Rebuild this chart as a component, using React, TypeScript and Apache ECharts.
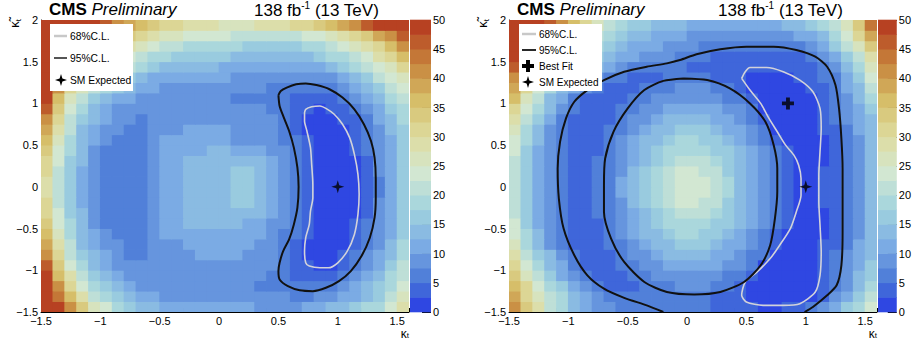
import React, { useEffect, useRef } from "react";
import * as echarts from "echarts";

const FONT = '"Liberation Sans", Arial, Helvetica, sans-serif';

// cell centres of the likelihood scans
const KT_CELLS = [-1.45, -1.35, -1.25, -1.15, -1.05, -0.95, -0.85, -0.75, -0.65, -0.55, -0.45, -0.35, -0.25, -0.15, -0.05, 0.05, 0.15, 0.25, 0.35, 0.45, 0.55, 0.65, 0.75, 0.85, 0.95, 1.05, 1.15, 1.25, 1.35, 1.45, 1.55];
const KTT_CELLS = [-1.4375, -1.3125, -1.1875, -1.0625, -0.9375, -0.8125, -0.6875, -0.5625, -0.4375, -0.3125, -0.1875, -0.0625, 0.0625, 0.1875, 0.3125, 0.4375, 0.5625, 0.6875, 0.8125, 0.9375, 1.0625, 1.1875, 1.3125, 1.4375, 1.5625, 1.6875, 1.8125, 1.9375];
const CELL_W = 0.1;
const CELL_H = 0.125;

// -2 dNLL values, rows from kappa~t = -1.44 (bottom) to 1.94 (top)
const LEFT_SCAN = [
  [58,48,41,34,27,22.5,18.5,16,14,12.5,11.5,11,10.8,10.7,10.7,10.6,10.4,10,9.6,9.3,9.4,9.8,10.5,11.5,12.8,14.3,15.8,17.5,19.8,23,28],
  [56,44,35,28,22,18,15,12.5,11,10.2,9.8,9.6,9.5,9.5,9.5,9.4,9.2,8.8,8.2,7.8,7.5,7.3,7.2,7.6,8.6,10.2,12.2,14.5,17.2,20.5,25],
  [53,40,31,24,19,15,12.5,10.8,9.8,9.3,9.1,9,9,9,9,9,8.8,8.3,7.3,6.8,6.1,5.5,5.1,5.3,6.3,8,10.5,13,16,19.5,24],
  [50,37,27.5,21,16,12.5,10.5,9.4,8.8,8.5,8.6,8.8,9,9,9,9,8.8,8.5,7.5,6.8,5.4,4.2,3.5,3.6,4.6,6.3,8.8,11.5,14.5,18,22],
  [46,34,24,18,14,11,9.3,8.3,7.8,8,8.5,9,9.3,9.5,9.5,9.5,9.3,9,8.5,7.5,5.6,4,2.7,2.2,2.4,4,6.2,8.8,12,15.5,20],
  [42,31,22,16,12.5,10,8.5,7.4,7,7.5,8.6,9.4,9.8,10,10.1,10.1,10,9.7,9.2,8,6.3,4.2,2,1.4,1.8,3,5,7.5,10.5,14,18.5],
  [38,28,20,14.5,11,9,7.6,7,6.6,7.5,9,9.9,10.3,10.4,10.4,10.4,10.3,10.2,9.8,8.8,6.8,4.8,2.2,1.2,1.2,2,3.8,6.2,9.2,12.8,17.5],
  [35,26,19,13.5,10,8,7,6.5,6.5,8,10.2,10.8,11,11.2,11.2,11.2,11,10.8,10.3,9,7,5.3,2.6,1,0.8,1.5,3.2,5.5,8.5,12,16.5],
  [33,24,18,13,9.5,7.4,6.6,6.3,6.4,8.2,10.6,11.8,12.6,12.8,13,13,12.8,12.4,11.5,9.8,7.6,5.6,3,0.9,0.5,1.1,2.8,5,8,11.5,16],
  [31,23,17,12.5,9,7,6.4,6.2,6.4,8.5,10.8,12,12.6,13,13.3,13.6,14,14.2,13.2,10.5,8,6.1,3.5,0.9,0.3,0.9,2.4,4.8,7.8,11.5,16],
  [30,22,16.5,12,8.8,6.9,6.3,6.1,6.3,8.5,11,12.2,12.8,13.3,13.8,14.3,15.2,15.3,14,10.8,8.2,6.2,3.3,0.8,0.2,0.8,2.1,4.5,7.5,11.3,16],
  [29,21,16,11.5,8.6,6.8,6.3,6.1,6.3,8.4,11,12.3,13,13.6,14,14.6,15.6,15.8,14.3,11,8.2,6.3,3.3,0.8,0.1,0.7,1.9,4.3,7.3,11.2,16],
  [29,21,16,11.5,8.6,6.8,6.3,6.1,6.3,8.4,11,12.3,13,13.6,14,14.6,15.6,15.8,14.3,11,8.2,6.3,3.3,0.8,0.1,0.7,1.9,4.3,7.3,11.2,16],
  [30,22,16.5,12,8.8,6.9,6.3,6.1,6.3,8.5,11,12.2,12.8,13.3,13.8,14.3,15.2,15.3,14,10.8,8.2,6.2,3.3,0.8,0.2,0.8,2.1,4.5,7.5,11.3,16],
  [31,23,17,12.5,9,7,6.4,6.2,6.4,8.5,10.8,12,12.6,13,13.3,13.6,14,14.2,13.2,10.5,8,6,3.2,0.8,0.3,0.9,2.3,4.7,7.8,11.5,16],
  [33,24,18,13,9.5,7.4,6.6,6.3,6.4,8.2,10.6,11.5,12,12.3,12.5,12.6,12.3,11.5,10.8,9.5,7.6,5.7,3,0.9,0.5,1.1,2.6,5,8,11.5,16],
  [35,26,19,13.5,10,8,7,6.5,6.5,8,10.2,10.8,11,11.2,11,10.5,9.9,9.8,9.5,8.6,7,5.3,2.6,1,0.8,1.4,3,5.3,8.5,12,16.5],
  [38,28,20,14.5,11,9,7.6,7,6.6,7.5,9,9.8,10,10.1,10.1,10,9.8,9.5,9,8,6.6,4.8,2.2,1.2,1.2,2,3.6,6,9,12.5,17],
  [42,31,22,16,12.5,10,8.5,7.5,7,7.5,8.3,8.8,9,9.2,9.3,9.3,9,8.7,8.3,7.5,6.2,4.5,2,1.5,1.8,3,4.8,7,10,13.5,18],
  [46,34,24,18,14,11,9.5,8.5,8,8,8.5,8.5,8.5,8.5,8.5,8.5,8,8,7.5,7,5.8,4,2.8,2.2,2.6,4,6,8.5,11.5,15,19],
  [49,37,27,21,16.5,13.5,11.5,10,9.5,8.5,8.5,8.5,8.5,8.5,8,7.5,7,7,7,6.5,5.5,4.5,3.8,3.8,4.5,6.2,9,11.5,14.5,18,21.5],
  [51,40,31,25,21,17.5,15,13,11.5,10,9.5,9.5,9,9,9,8.5,8.5,8,7.5,7,6.2,5.6,5.3,5.5,6.3,8.5,11,14,17,20,23.5],
  [53,43,35,29,25,21.5,19,16.5,14,12,11,10.5,10.5,10.5,10.5,10,9.5,9,8.5,8,7.5,7.5,7.5,8,9.5,11.5,14,17,20,23,26],
  [54,46,39,34,30,26,23,20,17.5,15,13.5,13,12.5,12.5,12.5,12,12,11.5,11,10.5,10,10,10.5,12,14,16,18,20.5,23.5,26.5,30],
  [55,49,43,38,34,30,27,24,21,19,17.5,16.5,16,15.5,15,15,14.5,14,13.5,13,13,13.5,14.5,16,17.5,19.5,22,24.5,28,31.5,35],
  [56,52,47,43,39,35,31.5,28.5,26,23.5,22,20.5,19.5,19,18.5,18,17.5,17,16.5,16.5,16.5,17,18,19.5,21,23,25.5,28.5,32,36,40],
  [58,55,51,47,43,39.5,36,33,30,28,26.5,25.5,24.5,23.5,23,22.5,22,21.5,21.5,21.5,21.5,22,23,24.5,26,28,30.5,34,38,42,46],
  [60,58,55,52,49,46,42,39,36,33.5,31.5,30,29,28,27.5,27,27,27,27.5,28,29,30.5,32,34,36,38.5,41.5,45,49,53,57],
];

const RIGHT_SCAN = [
  [40,34,28,22,17.5,14,11.5,9.5,8.2,7.3,6.6,6.1,5.8,5.6,5.4,5.2,5,4.6,4,3.4,2.8,2.4,2.4,2.6,4,6,8.5,11.5,15,19,23.5],
  [38,32,26.5,22,18,14.5,11.5,9,7.2,6,5.3,5,5.2,5.5,5.7,5.6,5,4.3,3.5,2.6,1.2,0.9,0.9,1.1,1.6,2.3,4.8,8,11.5,15.5,20.5],
  [36,30,24,19,15,11.5,8.6,6.3,4.9,4.4,4.6,5.3,6.2,7.1,7.6,7.7,7.5,6.8,6.3,3.5,1.2,0.6,0.5,0.6,1,1.9,3.6,5.8,9,13,18],
  [33,27,21,16,12,8.5,6.2,4.8,4.2,4.4,5.3,6.6,8,8.9,9.5,9.6,9.3,8.6,7.4,6.8,4,1.2,0.5,0.5,0.7,1.4,3.4,5.6,9,12.5,16.5],
  [30,24.5,19,14.5,10.5,7.2,4.8,4.1,4.3,5.2,6.4,8.2,9.7,10.8,11.5,11.6,11.3,10.4,9.1,7.5,6.6,2.2,0.7,0.4,0.5,1.1,3,5.6,8.5,11.8,15.5],
  [28,22,17,12.5,8.8,6,4.3,4.1,4.7,6.2,7.8,9.8,11.4,12.6,13.4,13.6,13.2,12.2,10.8,9,7.1,6.3,2,0.8,0.5,0.9,2.8,5.3,8,11,14.5],
  [26,19.5,14,9.8,6.8,4.5,3.9,4.3,5,7,9.1,11.2,13.2,14.5,15.5,15.7,15.2,14,12.4,10.3,8.3,6.4,2.6,1,0.4,0.5,2.5,4.8,7.3,10.2,13.8],
  [24,18,12.5,8.5,5.3,3.9,3.9,4.6,5.9,8,10.2,12.6,14.7,16.3,17.5,17.8,17.2,15.7,13.8,11.6,9.4,6.9,3.8,1.8,0.7,0.5,2.3,4.6,7,9.8,13.3],
  [23,17,12,8.2,5.1,3.8,4,4.9,6.2,8.8,11.2,13.8,16.1,18,19.5,19.9,19.1,17.4,15.2,12.7,10.3,7.7,5.8,2.5,1.1,0.6,2.3,4.5,6.9,9.8,13.3],
  [22,16.2,11.5,8,5,3.8,4,5,6.8,9.5,12,14.8,17.4,19.7,21.3,21.7,21,18.8,16.3,13.6,11,8.3,5.9,3.2,1.6,0.7,2.3,4.5,6.9,9.8,13.3],
  [21.5,15.8,11.2,7.8,5,3.8,4,5.1,7.2,9.9,12.6,15.5,18.4,21,22.7,22.9,22.2,20,17.1,14.2,11.6,8.8,6,3.6,2.1,0.9,2.5,4.6,7,9.8,13.3],
  [21,15.5,11,7.8,5,3.9,4.1,5.1,7.4,10.2,13,15.9,19,21.6,23.1,23.4,22.8,20.7,17.6,14.6,11.9,9,6.2,4,2.3,1,2.5,4.6,7,9.8,13.3],
  [21,15.5,11,7.8,5,3.9,4.1,5.1,7.4,10.2,13,15.9,19,21.6,23.1,23.4,22.8,20.7,17.6,14.6,11.9,9,6.2,4,2.4,1.2,2.6,4.6,7,9.8,13.3],
  [21.5,15.8,11.2,7.8,5,3.8,4,5.1,7.2,9.9,12.6,15.5,18.4,21,22.7,22.9,22.2,20,17.1,14.2,11.6,8.8,6,3.8,2.3,1,2.6,4.6,7,9.8,13.3],
  [22,16.2,11.5,8,5,3.8,4,5,6.8,9.5,12,14.8,17.4,19.7,21.3,21.7,21,18.8,16.3,13.6,11,8.3,5.9,3.3,1.8,0.8,2.4,4.5,6.9,9.8,13.3],
  [23,17,12,8.2,5.1,3.8,4,4.9,6.2,8.8,11.2,13.8,16.1,18,19.5,19.9,19.1,17.4,15.2,12.7,10.3,7.7,5.8,2.6,1.2,0.6,2.4,4.5,6.9,9.8,13.3],
  [24,18,12.5,8.5,5.3,3.9,3.9,4.6,5.8,8,10.2,12.6,14.7,16.3,17.5,17.8,17.2,15.7,13.8,11.6,9.4,6.9,3.5,1.6,0.6,0.5,2.4,4.6,7,9.8,13.4],
  [26,19.5,14,9.5,6,4,3.9,4.3,5,7,9.1,11.2,13.2,14.5,15.5,15.7,15.2,14,12.4,10.3,8.3,6.5,2.2,0.8,0.3,0.5,2.5,4.8,7.3,10,13.6],
  [28,21,15.5,10.5,6.8,4.3,3.9,4,4.6,5.9,7.8,9.8,11.4,12.6,13.4,13.6,13.2,12.2,10.8,9,7.1,4.5,1.3,0.3,0.2,0.8,2.8,5.2,7.8,10.6,14],
  [31,24,17.5,12.5,8.5,5.4,4.3,4,4.3,5.2,6.4,8.2,9.7,10.8,11.5,11.6,11.3,10.4,9.1,7.5,6.3,2.3,0.6,0.1,0.3,1,3,5.6,8.3,11.2,15],
  [35,27,20,14.5,10,6.8,4.8,4.2,4.1,4.4,5.3,6.6,8,8.9,9.5,9.6,9.3,8.6,7.4,6.4,3.5,1.2,0.4,0.1,0.4,1.5,3.8,5.7,9,12.5,17.5],
  [38,31,24,18.5,14,10.5,7.5,5.2,4.3,4.3,4.8,6,6.2,7.1,7.6,7.7,7.5,6.8,5.9,3.5,1.8,0.6,0.3,0.3,0.8,2.7,4.8,6.3,10.3,14.5,20],
  [41,33,27,22,17.5,14,11,8,6,5.2,4.6,4.4,4.7,5.2,5.8,5.8,5.3,4.6,3.6,2.5,1.5,0.8,0.8,1.4,2.6,4,5.4,7.2,11,16,22.5],
  [46,39,33,28,23.5,19.5,16,13,10.5,8.5,7,6,5.5,5.2,5,4.7,4.3,3.8,3.3,2.8,2.5,2.5,2.6,3,3.6,4.5,5.6,8.5,13,19,25.5],
  [49,43,37,32,27,23,19.5,16.5,14.2,12.3,10.8,9.5,8.5,7.5,6.6,5.8,5.2,4.6,4.1,3.7,3.5,3.5,3.6,4,4.6,5.6,8,11.5,16,22,29],
  [52,45,39,34,29,25,21.5,18.5,16,14,12.3,11,10,9.2,8.5,7.8,7.2,6.7,6.3,6.1,6,6,6.1,6.5,7.2,8.5,11,15,20,26,33],
  [56,49,43,38,33,28.5,24.5,21,18.5,16.3,14.5,13,12,11.2,10.5,9.8,9.3,8.9,8.6,8.5,8.5,8.6,8.9,9.5,10.5,12,14.5,18.5,23.5,30,38],
  [60,55,50,45,40,35,30,25.5,22,19,17,15.5,14.5,13.5,12.8,12.2,11.7,11.3,11,11,11.2,11.6,12.2,13,14.3,16,18.5,21,25.5,33,43],
];

// colour-scale boundaries (20 levels)
const LEVELS = [0, 2.5, 5, 7.5, 10, 12.5, 15, 17.5, 20, 22.5, 25, 27.5, 30, 32.5, 35, 37.5, 40, 42.5, 45, 47.5, 50];

// contour lines [kappa_t, kappa~_t]
const LEFT_CL68 = [[0.72,0.89],[0.73,0.93],[0.78,0.96],[0.85,0.97],[0.9,0.94],[0.97,0.87],[1.04,0.75],[1.1,0.59],[1.14,0.39],[1.17,0.15],[1.18,-0.09],[1.17,-0.33],[1.14,-0.57],[1.08,-0.77],[1.0,-0.91],[0.92,-0.97],[0.85,-0.97],[0.76,-0.95],[0.73,-0.91],[0.72,-0.77],[0.73,-0.61],[0.76,-0.45],[0.77,-0.29],[0.79,-0.13],[0.79,0.03],[0.78,0.27],[0.77,0.47],[0.74,0.67],[0.72,0.79],[0.72,0.89]];
const LEFT_CL95 = [[0.5,1.1],[0.52,1.15],[0.57,1.19],[0.65,1.23],[0.73,1.24],[0.82,1.22],[0.93,1.17],[1.04,1.07],[1.14,0.93],[1.22,0.75],[1.28,0.55],[1.31,0.35],[1.32,0.1],[1.32,-0.13],[1.31,-0.37],[1.27,-0.61],[1.2,-0.83],[1.11,-1.01],[1.01,-1.13],[0.9,-1.21],[0.79,-1.25],[0.68,-1.24],[0.58,-1.19],[0.51,-1.11],[0.5,-1.01],[0.51,-0.91],[0.54,-0.77],[0.59,-0.63],[0.63,-0.45],[0.66,-0.25],[0.67,0.0],[0.66,0.23],[0.63,0.47],[0.59,0.67],[0.54,0.85],[0.51,0.97],[0.5,1.1]];
const RIGHT_CL68 = [[0.46,1.3],[0.49,1.38],[0.53,1.43],[0.67,1.43],[0.81,1.38],[0.95,1.28],[1.06,1.14],[1.12,0.94],[1.13,0.7],[1.12,0.42],[1.11,0.14],[1.11,-0.18],[1.12,-0.46],[1.13,-0.78],[1.12,-1.06],[1.08,-1.26],[0.95,-1.4],[0.81,-1.42],[0.64,-1.42],[0.5,-1.38],[0.46,-1.3],[0.49,-1.14],[0.59,-1.02],[0.7,-0.86],[0.78,-0.7],[0.87,-0.5],[0.92,-0.3],[0.96,-0.1],[0.96,0.1],[0.94,0.26],[0.9,0.38],[0.83,0.5],[0.76,0.66],[0.69,0.82],[0.62,1.0],[0.53,1.16],[0.46,1.3]];
const RIGHT_CL95_OUTER = [[-0.2,-1.5],[-0.34,-1.42],[-0.53,-1.33],[-0.7,-1.22],[-0.84,-1.06],[-0.95,-0.82],[-1.04,-0.5],[-1.08,-0.14],[-1.09,0.22],[-1.07,0.54],[-1.02,0.82],[-0.95,1.02],[-0.84,1.16],[-0.7,1.28],[-0.53,1.38],[-0.34,1.44],[-0.17,1.48],[-0.06,1.52],[0.08,1.59],[0.28,1.65],[0.5,1.68],[0.73,1.68],[0.92,1.64],[1.08,1.56],[1.18,1.44],[1.25,1.22],[1.28,0.94],[1.3,0.58],[1.31,0.22],[1.31,-0.14],[1.31,-0.54],[1.3,-0.94],[1.26,-1.18],[1.18,-1.3],[1.06,-1.44],[0.99,-1.5]];
const RIGHT_CL95_INNER = [[-0.03,1.3],[0.17,1.28],[0.36,1.18],[0.53,1.0],[0.66,0.78],[0.73,0.5],[0.76,0.22],[0.76,-0.06],[0.74,-0.38],[0.7,-0.7],[0.62,-0.94],[0.48,-1.14],[0.28,-1.26],[0.06,-1.29],[-0.17,-1.26],[-0.36,-1.14],[-0.53,-0.9],[-0.64,-0.62],[-0.7,-0.3],[-0.7,0.02],[-0.69,0.34],[-0.62,0.66],[-0.5,0.94],[-0.36,1.16],[-0.2,1.27],[-0.03,1.3]];

const SM_EXPECTED = [[1, 0]];
const BEST_FIT_RIGHT = [[0.85, 1.0]];

// palette (ROOT light temperature, 20 bands)
const BAND_COLORS = [
  "rgb(47,71,226)", "rgb(63,102,218)", "rgb(81,128,217)", "rgb(102,149,222)", "rgb(123,171,228)",
  "rgb(138,187,226)", "rgb(153,203,223)", "rgb(170,215,220)", "rgb(190,223,215)", "rgb(210,231,210)",
  "rgb(215,227,190)", "rgb(220,222,170)", "rgb(220,214,149)", "rgb(217,202,127)", "rgb(214,190,105)",
  "rgb(208,167,87)", "rgb(202,144,69)", "rgb(196,119,55)", "rgb(189,92,44)", "rgb(183,65,34)",
];

const STAR_PATH = "path://M0,-10L2.3,-2.3L10,0L2.3,2.3L0,10L-2.3,2.3L-10,0L-2.3,-2.3Z";
const PLUS_PATH = "path://M-3.2,-10H3.2V-3.2H10V3.2H3.2V10H-3.2V3.2H-10V-3.2H-3.2Z";

function bandColor(v: number) {
  let b = Math.floor(v / 2.5);
  if (b < 0) b = 0;
  if (b > 19) b = 19;
  return BAND_COLORS[b];
}

function cellsFrom(rows: number[][]) {
  const out: number[][] = [];
  rows.forEach((row, j) => row.forEach((v, i) => out.push([KT_CELLS[i], KTT_CELLS[j], v])));
  return out;
}

function levelItems() {
  const out: number[][] = [];
  for (let i = 0; i < LEVELS.length - 1; i++) out.push([0, LEVELS[i], LEVELS[i + 1]]);
  return out;
}

const tickFmt = (v: number) => {
  const s = String(Math.round(v * 100) / 100);
  return s.replace("-", "\u2212");
};

function mainX(grid: number) {
  return {
    gridIndex: grid, type: "value", min: -1.5, max: 1.6, interval: 0.5, position: "bottom",
    axisLine: { show: true, onZero: false, lineStyle: { color: "#000", width: 1 } },
    axisTick: { show: true, inside: true, length: 8, lineStyle: { color: "#000", width: 1 } },
    axisLabel: { show: true, margin: 3, color: "#000", fontSize: 11, fontFamily: FONT, showMaxLabel: false, formatter: tickFmt },
    splitLine: { show: false },
  };
}
function minorX(grid: number) {
  return {
    gridIndex: grid, type: "value", min: -1.5, max: 1.6, interval: 0.1, position: "bottom",
    axisLine: { show: false, onZero: false },
    axisTick: { show: true, inside: true, length: 4, lineStyle: { color: "#000", width: 1 } },
    axisLabel: { show: false }, splitLine: { show: false },
  };
}
function mainY(grid: number) {
  return {
    gridIndex: grid, type: "value", min: -1.5, max: 2, interval: 0.5, position: "left",
    axisLine: { show: true, onZero: false, lineStyle: { color: "#000", width: 1 } },
    axisTick: { show: true, inside: true, length: 8, lineStyle: { color: "#000", width: 1 } },
    axisLabel: { show: true, margin: 3, color: "#000", fontSize: 11, fontFamily: FONT, formatter: tickFmt },
    splitLine: { show: false },
  };
}
function minorY(grid: number) {
  return {
    gridIndex: grid, type: "value", min: -1.5, max: 2, interval: 0.1, position: "left",
    axisLine: { show: false, onZero: false },
    axisTick: { show: true, inside: true, length: 4, lineStyle: { color: "#000", width: 1 } },
    axisLabel: { show: false }, splitLine: { show: false },
  };
}
function cbX(grid: number) {
  return { gridIndex: grid, type: "value", min: 0, max: 1, show: false };
}
function cbY(grid: number) {
  return {
    gridIndex: grid, type: "value", min: 0, max: 50, interval: 5, position: "right",
    axisLine: { show: false, onZero: false },
    axisTick: { show: true, inside: true, length: 9, lineStyle: { color: "#000", width: 1 } },
    axisLabel: { show: true, margin: 2, color: "#000", fontSize: 11, fontFamily: FONT },
    splitLine: { show: false },
  };
}

function heatSeries(axis: number, rows: number[][]) {
  return {
    type: "custom", xAxisIndex: axis, yAxisIndex: axis, clip: true, silent: true, z: 1,
    data: cellsFrom(rows),
    renderItem: (_p: any, api: any) => {
      const x = api.value(0), y = api.value(1), v = api.value(2);
      const a = api.coord([x - CELL_W / 2, y + CELL_H / 2]);
      const b = api.coord([x + CELL_W / 2, y - CELL_H / 2]);
      return {
        type: "rect",
        shape: { x: a[0] - 0.4, y: a[1] - 0.4, width: b[0] - a[0] + 0.8, height: b[1] - a[1] + 0.8 },
        style: { fill: bandColor(v) },
      };
    },
  };
}

function barSeries(axis: number) {
  return {
    type: "custom", xAxisIndex: axis, yAxisIndex: axis, silent: true, z: 1,
    data: levelItems(),
    renderItem: (_p: any, api: any) => {
      const lo = api.value(1), hi = api.value(2);
      const a = api.coord([0, hi]);
      const b = api.coord([1, lo]);
      return {
        type: "rect",
        shape: { x: a[0], y: a[1] - 0.3, width: b[0] - a[0], height: b[1] - a[1] + 0.6 },
        style: { fill: bandColor((lo + hi) / 2) },
      };
    },
  };
}

function lineSeries(axis: number, data: number[][], color: string, width: number) {
  return {
    type: "line", xAxisIndex: axis, yAxisIndex: axis, data, symbol: "none", showSymbol: false,
    smooth: 0.25, clip: true, silent: true, z: 3,
    lineStyle: { color, width },
  };
}

function markerSeries(axis: number, data: number[][], symbol: string, size: number) {
  return {
    type: "scatter", xAxisIndex: axis, yAxisIndex: axis, data, symbol, symbolSize: size,
    silent: true, z: 4, itemStyle: { color: "#000" },
  };
}

function starPts(cx: number, cy: number, r: number) {
  const q = r * 0.23;
  return [[cx, cy - r], [cx + q, cy - q], [cx + r, cy], [cx + q, cy + q], [cx, cy + r], [cx - q, cy + q], [cx - r, cy], [cx - q, cy - q]];
}
function plusPts(cx: number, cy: number, r: number) {
  const w = r * 0.33;
  return [[cx - w, cy - r], [cx + w, cy - r], [cx + w, cy - w], [cx + r, cy - w], [cx + r, cy + w], [cx + w, cy + w], [cx + w, cy + r], [cx - w, cy + r], [cx - w, cy + w], [cx - r, cy + w], [cx - r, cy - w], [cx - w, cy - w]];
}

function txt(x: number, y: number, text: string, size: number, extra: any = {}) {
  return {
    type: "text", x, y, z: 100,
    style: { text, fill: "#000", fontSize: size, fontFamily: FONT, verticalAlign: "middle", align: "left", ...extra },
  };
}

function titleEls(x1: number, x2: number) {
  return [
    {
      type: "text", x: x1, y: 9.5, z: 100,
      style: {
        text: "{b|CMS} {i|Preliminary}", fill: "#000", fontSize: 17, fontFamily: FONT, verticalAlign: "middle",
        rich: {
          b: { fontSize: 17, fontWeight: "bold", fontFamily: FONT, fill: "#000" },
          i: { fontSize: 17, fontStyle: "italic", fontFamily: FONT, fill: "#000" },
        },
      },
    },
    {
      type: "text", x: x2, y: 10, z: 100,
      style: {
        text: "138 fb{s|-1} (13 TeV)", fill: "#000", fontSize: 17, fontFamily: FONT, verticalAlign: "middle", lineHeight: 20,
        rich: { s: { fontSize: 10, fontFamily: FONT, fill: "#000", verticalAlign: "top", lineHeight: 10 } },
      },
    },
  ];
}

function axisNameEls(xr: number, yx: number) {
  return [
    {
      type: "text", x: xr, y: 334, z: 100,
      style: {
        text: "{k|\u03BA}{s|t}", align: "right", verticalAlign: "middle", fill: "#000", fontFamily: FONT, fontSize: 12, lineHeight: 11,
        rich: {
          k: { fontSize: 12, fontFamily: FONT, fill: "#000", lineHeight: 11 },
          s: { fontSize: 8, fontFamily: FONT, fill: "#000", verticalAlign: "bottom", lineHeight: 6 },
        },
      },
    },
    {
      type: "text", x: yx, y: 19, z: 100, rotation: Math.PI / 2,
      style: {
        text: "{k|\u03BA\u0303}{s|t}", align: "right", verticalAlign: "middle", fill: "#000", fontFamily: FONT, fontSize: 13, lineHeight: 16,
        rich: {
          k: { fontSize: 13, fontFamily: FONT, fill: "#000", lineHeight: 16 },
          s: { fontSize: 8, fontFamily: FONT, fill: "#000", verticalAlign: "bottom", lineHeight: 8 },
        },
      },
    },
  ];
}

function leftLegend() {
  return [
    { type: "rect", z: 99, shape: { x: 50, y: 24, width: 83, height: 67 }, style: { fill: "#fff" } },
    { type: "line", z: 100, shape: { x1: 54, y1: 36, x2: 67, y2: 36 }, style: { stroke: "#c8c8c8", lineWidth: 2.5 } },
    txt(70, 36, "68%C.L.", 10.3),
    { type: "line", z: 100, shape: { x1: 54, y1: 58, x2: 67, y2: 58 }, style: { stroke: "#555", lineWidth: 2 } },
    txt(70, 58, "95%C.L.", 10.3),
    { type: "polygon", z: 100, shape: { points: starPts(61, 80, 6) }, style: { fill: "#000" } },
    txt(70, 80, "SM Expected", 10.3),
  ];
}
function rightLegend() {
  return [
    { type: "rect", z: 99, shape: { x: 519, y: 24, width: 83, height: 67 }, style: { fill: "#fff" } },
    { type: "line", z: 100, shape: { x1: 522, y1: 34, x2: 536, y2: 34 }, style: { stroke: "#c8c8c8", lineWidth: 2.5 } },
    txt(539, 34, "68%C.L.", 10),
    { type: "line", z: 100, shape: { x1: 522, y1: 50, x2: 536, y2: 50 }, style: { stroke: "#111", lineWidth: 1.8 } },
    txt(539, 50, "95%C.L.", 10),
    { type: "polygon", z: 100, shape: { points: plusPts(528, 66, 6) }, style: { fill: "#000" } },
    txt(539, 66, "Best Fit", 10),
    { type: "polygon", z: 100, shape: { points: starPts(528, 82, 6) }, style: { fill: "#000" } },
    txt(539, 82, "SM Expected", 10),
  ];
}

export default function App() {
  const ref = useRef<HTMLDivElement>(null);
  useEffect(() => {
    if (!ref.current) return;
    const chart = echarts.init(ref.current, undefined, { renderer: "svg" });
    const option: any = {
      animation: false,
      backgroundColor: "#fff",
      grid: [
        { left: 41, top: 20, width: 368, height: 292 },
        { left: 410, top: 20, width: 21, height: 292 },
        { left: 509, top: 20, width: 368, height: 292 },
        { left: 878, top: 20, width: 20, height: 292 },
      ],
      xAxis: [mainX(0), minorX(0), cbX(1), mainX(2), minorX(2), cbX(3)],
      yAxis: [mainY(0), minorY(0), cbY(1), mainY(2), minorY(2), cbY(3)],
      series: [
        heatSeries(0, LEFT_SCAN),
        barSeries(2),
        lineSeries(0, LEFT_CL68, "#d2d2da", 1.6),
        lineSeries(0, LEFT_CL95, "#111", 2),
        markerSeries(0, SM_EXPECTED, STAR_PATH, 13),
        heatSeries(3, RIGHT_SCAN),
        barSeries(5),
        lineSeries(3, RIGHT_CL68, "#d2d2da", 1.6),
        lineSeries(3, RIGHT_CL95_OUTER, "#111", 2),
        lineSeries(3, RIGHT_CL95_INNER, "#111", 2),
        markerSeries(3, BEST_FIT_RIGHT, PLUS_PATH, 12),
        markerSeries(3, SM_EXPECTED, STAR_PATH, 13),
      ],
      graphic: [
        ...titleEls(49, 254),
        ...titleEls(517, 718),
        ...axisNameEls(409, 14),
        ...axisNameEls(877, 482),
        ...leftLegend(),
        ...rightLegend(),
      ],
    };
    chart.setOption(option);
    return () => chart.dispose();
  }, []);
  return (
    <div
      ref={ref}
      style={{ position: "fixed", left: 0, top: 0, width: 914, height: 343, background: "#fff" }}
    />
  );
}
